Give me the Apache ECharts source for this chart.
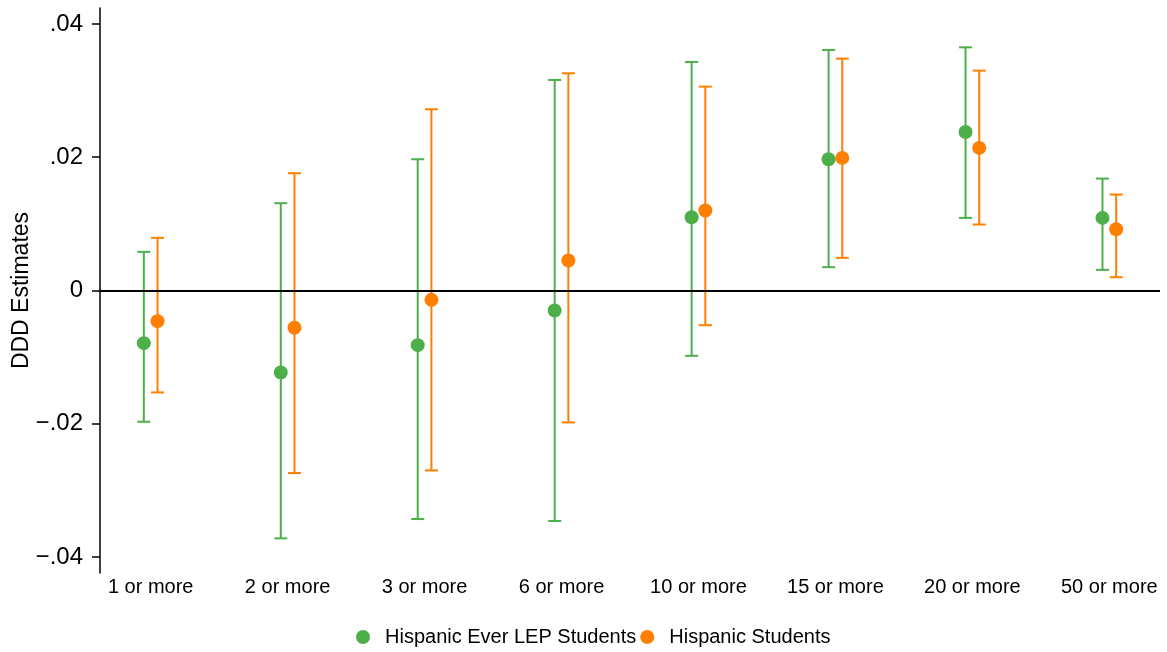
<!DOCTYPE html>
<html>
<head>
<meta charset="utf-8">
<script src="https://cdn.jsdelivr.net/npm/echarts@6/dist/echarts.min.js"></script>
<style>
  html, body { margin: 0; padding: 0; background: #fff; }
  #chart { width: 1167px; height: 652px; }
</style>
</head>
<body>
<div id="chart"></div>
<script>
// Thresholds on the horizontal axis
const categories = ['1 or more', '2 or more', '3 or more', '6 or more', '10 or more', '15 or more', '20 or more', '50 or more'];

// Hispanic Ever LEP Students: point estimates and 95% CI bounds
const lepEst  = [-0.0079, -0.0123, -0.0082, -0.0030, 0.0110, 0.0197, 0.0238, 0.0109];
const lepLow  = [-0.0197, -0.0372, -0.0343, -0.0346, -0.0098, 0.0035, 0.0109, 0.0031];
const lepHigh = [ 0.0058,  0.0131,  0.0197,  0.0316, 0.0343, 0.0361, 0.0365, 0.0168];

// Hispanic Students: point estimates and 95% CI bounds
const hispEst  = [-0.0046, -0.0056, -0.0014, 0.0045, 0.0120, 0.0199, 0.0214, 0.0092];
const hispLow  = [-0.0153, -0.0274, -0.0270, -0.0198, -0.0052, 0.0049, 0.0099, 0.0020];
const hispHigh = [ 0.0079,  0.0176,  0.0272,  0.0326, 0.0306, 0.0348, 0.0330, 0.0144];

// Y tick values
const yTicks = [-0.04, -0.02, 0, 0.02, 0.04];

const GREEN = '#4daf4a';
const ORANGE = '#ff7f00';
const FONT = '"Liberation Sans", Arial, Helvetica, sans-serif';
const SHIFT = 0.05;

function fmtTick(v) {
  if (Math.abs(v) < 1e-9) return '0';
  const s = Math.abs(v).toFixed(2).replace(/^0/, '');
  return (v < 0 ? '\u2212' : '') + s;
}

const xPos = (i, dx) => i + 1 + dx;
const lepPoints  = lepEst.map((v, i) => [xPos(i, -SHIFT), v]);
const hispPoints = hispEst.map((v, i) => [xPos(i, SHIFT), v]);
const lepBars  = lepLow.map((v, i) => [xPos(i, -SHIFT), v, lepHigh[i]]);
const hispBars = hispLow.map((v, i) => [xPos(i, SHIFT), v, hispHigh[i]]);

function errorBar(color) {
  return function (params, api) {
    const x = api.value(0);
    const lo = api.coord([x, api.value(1)]);
    const hi = api.coord([x, api.value(2)]);
    const cap = 6.5;
    const style = { stroke: color, lineWidth: 2 };
    return {
      type: 'group',
      children: [
        { type: 'line', shape: { x1: lo[0], y1: lo[1], x2: hi[0], y2: hi[1] }, style },
        { type: 'line', shape: { x1: hi[0] - cap, y1: hi[1], x2: hi[0] + cap, y2: hi[1] }, style },
        { type: 'line', shape: { x1: lo[0] - cap, y1: lo[1], x2: lo[0] + cap, y2: lo[1] }, style }
      ]
    };
  };
}

const chart = echarts.init(document.getElementById('chart'), null, { renderer: 'canvas' });

chart.setOption({
  animation: false,
  backgroundColor: '#ffffff',
  textStyle: { fontFamily: FONT },
  grid: { left: 100, right: 7, top: 8, bottom: 79, containLabel: false, outerBoundsMode: 'none' },
  legend: {
    data: ['Hispanic Ever LEP Students', 'Hispanic Students'],
    left: 356,
    top: 627,
    padding: 0,
    icon: 'circle',
    itemWidth: 14,
    itemHeight: 14,
    itemGap: 4,
    textStyle: { fontFamily: FONT, fontSize: 20, color: '#000', padding: [0, 0, 0, 10] }
  },
  xAxis: {
    type: 'value',
    min: 0.63,
    max: 8.37,
    axisLine: { show: false },
    axisTick: { show: false },
    splitLine: { show: false },
    axisLabel: {
      customValues: categories.map((c, i) => i + 1),
      formatter: v => categories[Math.round(v) - 1] || '',
      fontFamily: FONT,
      fontSize: 20,
      color: '#000',
      margin: 4
    }
  },
  yAxis: {
    type: 'value',
    min: -0.0424,
    max: 0.0424,
    name: 'DDD Estimates',
    nameLocation: 'middle',
    nameRotate: 90,
    nameGap: 67,
    nameMoveOverlap: false,
    nameTextStyle: { fontFamily: FONT, fontSize: 23, color: '#000' },
    axisLine: { show: true, lineStyle: { color: '#000', width: 1.5 } },
    axisTick: {
      show: true,
      customValues: yTicks,
      length: 8,
      lineStyle: { color: '#000', width: 1.5 }
    },
    splitLine: { show: false },
    axisLabel: {
      customValues: yTicks,
      formatter: fmtTick,
      fontFamily: FONT,
      fontSize: 24,
      color: '#000',
      margin: 17
    }
  },
  series: [
    {
      type: 'custom',
      name: 'lepCI',
      renderItem: errorBar(GREEN),
      data: lepBars,
      encode: { x: 0, y: [1, 2] },
      z: 2,
      markLine: {
        silent: true,
        symbol: 'none',
        label: { show: false },
        lineStyle: { color: '#000', width: 2, type: 'solid' },
        data: [{ yAxis: 0 }]
      }
    },
    {
      type: 'custom',
      name: 'hispCI',
      renderItem: errorBar(ORANGE),
      data: hispBars,
      encode: { x: 0, y: [1, 2] },
      z: 2
    },
    {
      type: 'scatter',
      name: 'Hispanic Ever LEP Students',
      data: lepPoints,
      symbol: 'circle',
      symbolSize: 14,
      itemStyle: { color: GREEN, opacity: 1 },
      z: 3
    },
    {
      type: 'scatter',
      name: 'Hispanic Students',
      data: hispPoints,
      symbol: 'circle',
      symbolSize: 14,
      itemStyle: { color: ORANGE, opacity: 1 },
      z: 3
    }
  ]
});
</script>
</body>
</html>
